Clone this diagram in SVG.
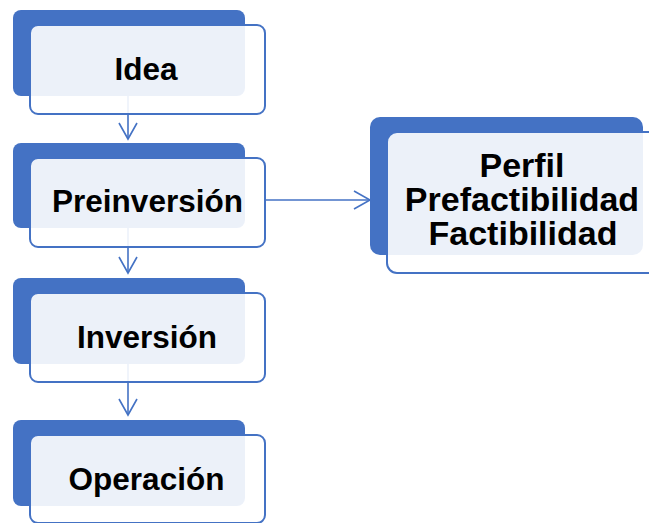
<svg xmlns="http://www.w3.org/2000/svg" width="649" height="523" viewBox="0 0 649 523">
<defs>
<style>
.back{fill:#4472C4;}
.front{fill:#FFFFFF;fill-opacity:0.9;stroke:#4472C4;stroke-width:2;}
.lbl{font-family:"Liberation Sans",Arial,sans-serif;font-weight:bold;font-size:31.5px;fill:#000000;text-anchor:middle;}
.big{font-size:34px;}
.conn{stroke:#4472C4;stroke-width:1.6;fill:none;marker-end:url(#arr);}
</style>
<marker id="arr" markerUnits="userSpaceOnUse" viewBox="0 0 20 22" refX="18" refY="11" markerWidth="20" markerHeight="22" orient="auto">
<path d="M2,2 L18,11 L2,20" fill="none" stroke="#4472C4" stroke-width="1.6"/>
</marker>
</defs>
<rect width="649" height="523" fill="#FFFFFF"/>
<g id="connectors">
<line class="conn" x1="128" y1="96" x2="128" y2="139"/>
<line class="conn" x1="128" y1="228" x2="128" y2="273"/>
<line class="conn" x1="128" y1="364" x2="128" y2="415"/>
<line class="conn" x1="265" y1="200" x2="370" y2="200"/>
</g>
<g id="idea">
<rect class="back" x="13" y="10" width="232" height="86" rx="8"/>
<rect class="front" x="30" y="25" width="235" height="89" rx="8"/>
<text class="lbl" x="146" y="80">Idea</text>
</g>
<g id="preinversion">
<rect class="back" x="13" y="143" width="232" height="85" rx="8"/>
<rect class="front" x="30" y="158" width="235" height="89" rx="8"/>
<text class="lbl" x="147.5" y="212">Preinversión</text>
</g>
<g id="inversion">
<rect class="back" x="13" y="278" width="232" height="86" rx="8"/>
<rect class="front" x="30" y="293" width="235" height="89" rx="8"/>
<text class="lbl" x="147" y="348">Inversión</text>
</g>
<g id="operacion">
<rect class="back" x="13" y="420" width="232" height="86" rx="8"/>
<rect class="front" x="30" y="435" width="235" height="88" rx="8"/>
<text class="lbl" x="146.5" y="490">Operación</text>
</g>
<g id="perfil">
<rect class="back" x="370" y="117" width="273" height="138" rx="10"/>
<rect class="front" x="387" y="132" width="280" height="141" rx="10"/>
<text class="lbl big" x="522" y="177">Perfil</text>
<text class="lbl big" x="522" y="211">Prefactibilidad</text>
<text class="lbl big" x="523" y="245">Factibilidad</text>
</g>
</svg>
